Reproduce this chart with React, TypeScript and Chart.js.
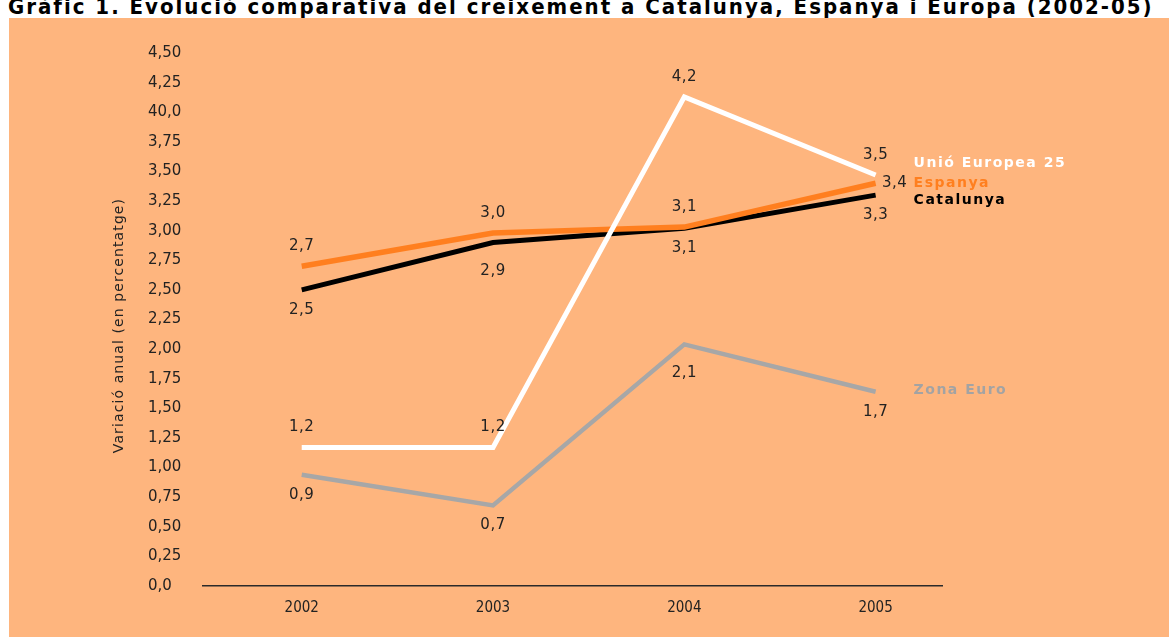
import React, { useEffect, useRef } from "react";
import { Chart, registerables } from "chart.js";

Chart.register(...registerables);

const chartTitle =
  "Gràfic 1. Evolució comparativa del creixement a Catalunya, Espanya i Europa (2002-05)";
const yAxisTitle = "Variació anual (en percentatge)";

const years = [2002, 2003, 2004, 2005];

const seriesNames = ["Unió Europea 25", "Espanya", "Catalunya", "Zona Euro"];

const ueValues = [1.17, 1.17, 4.13, 3.47];
const espanyaValues = [2.7, 2.98, 3.03, 3.4];
const catalunyaValues = [2.5, 2.9, 3.02, 3.3];
const zonaEuroValues = [0.94, 0.68, 2.04, 1.64];

const ueLabels = ["1,2", "1,2", "4,2", "3,5"];
const espanyaLabels = ["2,7", "3,0", "3,1", "3,4"];
const catalunyaLabels = ["2,5", "2,9", "3,1", "3,3"];
const zonaEuroLabels = ["0,9", "0,7", "2,1", "1,7"];

const yTickLabels = [
  "0,0", "0,25", "0,50", "0,75", "1,00", "1,25", "1,50", "1,75", "2,00",
  "2,25", "2,50", "2,75", "3,00", "3,25", "3,50", "3,75", "40,0", "4,25", "4,50",
];

const BG = "#FEB57E";
const TEXT = "#222222";

const labelsPlugin = {
  id: "valueAndEndLabels",
  afterDatasetsDraw(chart: any) {
    const ctx = chart.ctx;
    ctx.save();
    chart.data.datasets.forEach((ds: any, i: number) => {
      const meta = chart.getDatasetMeta(i);
      ctx.font = "15px 'DejaVu Sans'";
      (ctx as any).letterSpacing = "0.5px";
      ctx.fillStyle = TEXT;
      ctx.textBaseline = "middle";
      meta.data.forEach((pt: any, j: number) => {
        const place = ds.labelPlace[j];
        let x = pt.x;
        let y = pt.y;
        ctx.textAlign = "center";
        if (place === "above") y -= 20;
        else if (place === "below") y += 20;
        else if (place === "below2") y += 29;
        else if (place === "right") x += 19;
        ctx.fillText(ds.valueLabels[j], x, y);
      });
      const last = meta.data[meta.data.length - 1];
      ctx.font = "bold 14px 'DejaVu Sans'";
      (ctx as any).letterSpacing = "1.5px";
      ctx.textAlign = "left";
      ctx.fillStyle = ds.endLabelColor;
      ctx.fillText(ds.label, last.x + 38, last.y + ds.endLabelDy);
      (ctx as any).letterSpacing = "0px";
    });
    const area = chart.chartArea;
    ctx.translate(110, (area.top + area.bottom) / 2 + 6);
    ctx.rotate(-Math.PI / 2);
    ctx.font = "14px 'DejaVu Sans'";
    (ctx as any).letterSpacing = "1.1px";
    ctx.fillStyle = TEXT;
    ctx.textAlign = "center";
    ctx.textBaseline = "middle";
    ctx.fillText(yAxisTitle, 0, 0);
    ctx.restore();
  },
};

const CANVAS_TOP = 18;
const CANVAS_LEFT = 9;
const CANVAS_W = 1160;
const CANVAS_H = 637 - CANVAS_TOP;

export default function App() {
  const ref = useRef<HTMLCanvasElement | null>(null);

  useEffect(() => {
    document.body.style.overflow = "hidden";
    const toPts = (vals: number[]) => vals.map((v, i) => ({ x: years[i], y: v }));
    const chart = new Chart(ref.current as HTMLCanvasElement, {
      type: "line",
      data: {
        datasets: [
          {
            label: seriesNames[0],
            data: toPts(ueValues),
            borderColor: "#FFFFFF",
            borderWidth: 5,
            valueLabels: ueLabels,
            labelPlace: ["above", "above", "above", "above"],
            endLabelColor: "#FFFFFF",
            endLabelDy: -12,
          } as any,
          {
            label: seriesNames[1],
            data: toPts(espanyaValues),
            borderColor: "#FF7F1F",
            borderWidth: 5.5,
            valueLabels: espanyaLabels,
            labelPlace: ["above", "above", "above", "right"],
            endLabelColor: "#FF7F1F",
            endLabelDy: 0,
          } as any,
          {
            label: seriesNames[2],
            data: toPts(catalunyaValues),
            borderColor: "#000000",
            borderWidth: 5,
            valueLabels: catalunyaLabels,
            labelPlace: ["below", "below2", "below", "below"],
            endLabelColor: "#000000",
            endLabelDy: 5,
          } as any,
          {
            label: seriesNames[3],
            data: toPts(zonaEuroValues),
            borderColor: "#A7A7A7",
            borderWidth: 4.5,
            valueLabels: zonaEuroLabels,
            labelPlace: ["below", "below", "below2", "below"],
            endLabelColor: "#A3A3A3",
            endLabelDy: -1,
          } as any,
        ],
      },
      options: {
        animation: false,
        responsive: false,
        devicePixelRatio: 1,
        elements: {
          point: { radius: 0, hoverRadius: 0 },
          line: { tension: 0, borderCapStyle: "butt", borderJoinStyle: "miter" },
        },
        layout: { padding: { left: 139, right: 227, top: 35, bottom: 0 } },
        plugins: {
          legend: { display: false },
          title: { display: false },
          tooltip: { enabled: false },
        },
        scales: {
          x: {
            type: "linear",
            min: 2001.484,
            max: 2005.347,
            grid: { display: false, drawTicks: false },
            border: { display: true, color: "#2a2a2a", width: 1.5 },
            afterBuildTicks: (scale: any) => {
              scale.ticks = years.map((v) => ({ value: v }));
            },
            afterFit: (scale: any) => {
              scale.height = 51;
            },
            ticks: {
              padding: 13,
              color: TEXT,
              font: { family: "'Liberation Sans Narrow', 'DejaVu Sans Condensed'", size: 15 },
              callback: (v: any) => String(v),
              autoSkip: false,
              maxRotation: 0,
            },
          },
          y: {
            min: 0,
            max: 4.5,
            grid: { display: false, drawTicks: false },
            border: { display: false },
            afterFit: (scale: any) => {
              scale.width = 55;
            },
            ticks: {
              stepSize: 0.25,
              autoSkip: false,
              crossAlign: "far",
              color: TEXT,
              font: { family: "'DejaVu Sans'", size: 15 },
              callback: (_v: any, i: number) => yTickLabels[i],
            },
          },
        },
      },
      plugins: [labelsPlugin],
    });
    return () => chart.destroy();
  }, []);

  return (
    <>
      <div
        style={{
          position: "absolute",
          left: 8,
          top: -5,
          whiteSpace: "nowrap",
          fontFamily: "'Liberation Sans Narrow', 'DejaVu Sans Condensed', sans-serif",
          fontWeight: "bold",
          fontSize: 22,
          letterSpacing: "2px",
          color: "#000",
          lineHeight: "24px",
        }}
      >
        {chartTitle}
      </div>
      <div
        style={{
          position: "absolute",
          left: CANVAS_LEFT,
          top: CANVAS_TOP,
          width: CANVAS_W,
          height: CANVAS_H,
          background: BG,
        }}
      >
        <canvas ref={ref} width={CANVAS_W} height={CANVAS_H} style={{ display: "block" }} />
      </div>
    </>
  );
}
